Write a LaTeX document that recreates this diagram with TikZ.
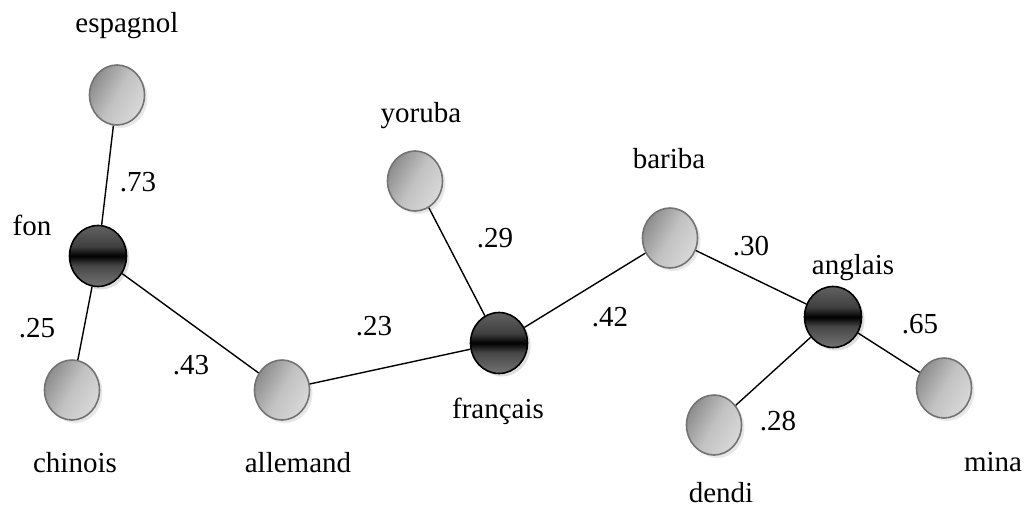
\documentclass[tikz,border=0pt]{standalone}
\usepackage{fontspec}
\setmainfont{Liberation Serif}
\usetikzlibrary{shadows,shapes.geometric}
\pgfdeclareverticalshading{blackball}{100bp}{color(0bp)=(black!55); color(25bp)=(black!55); color(42bp)=(black!72); color(50bp)=(black); color(58bp)=(black!75); color(75bp)=(black!62); color(100bp)=(black!62)}
\tikzset{
  graynode/.style={draw=black!55, line width=1.6pt, minimum width=55pt, minimum height=60pt, inner sep=0pt,
    shape=ellipse, left color=black!45, right color=black!15, middle color=black!24, shading angle=60,
    drop shadow={opacity=0.18, shadow xshift=3pt, shadow yshift=-3pt}},
  blacknode/.style={draw=black, line width=1.6pt, minimum width=57pt, minimum height=61pt, inner sep=0pt,
    shape=ellipse, shading=blackball,
    drop shadow={opacity=0.25, shadow xshift=3pt, shadow yshift=-3pt}},
  lbl/.style={font=\fontsize{29}{30}\selectfont, anchor=base, inner sep=0pt},
  edge/.style={line width=1.4pt, black}
}
\begin{document}
\begin{tikzpicture}[x=1pt,y=-1pt]
\useasboundingbox (0,0) rectangle (1026,524);
% nodes
\node[graynode]  (espagnol) at (117,95) {};
\node[blacknode] (fon)      at (98,256) {};
\node[graynode]  (chinois)  at (72,390) {};
\node[graynode]  (allemand) at (282,390) {};
\node[graynode]  (yoruba)   at (415,181) {};
\node[blacknode] (francais) at (499,343) {};
\node[graynode]  (bariba)   at (670,238) {};
\node[blacknode] (anglais)  at (833,317) {};
\node[graynode]  (dendi)    at (714,425) {};
\node[graynode]  (mina)     at (944,388) {};
% edges
\draw[edge] (espagnol) -- (fon);
\draw[edge] (fon) -- (chinois);
\draw[edge] (fon) -- (allemand);
\draw[edge] (allemand) -- (francais);
\draw[edge] (yoruba) -- (francais);
\draw[edge] (francais) -- (bariba);
\draw[edge] (bariba) -- (anglais);
\draw[edge] (anglais) -- (dendi);
\draw[edge] (anglais) -- (mina);
% labels
\node[lbl] (tespagnol) at (127,33) {espagnol};
\node[lbl] (tfon)      at (32,235) {fon};
\node[lbl] (tchinois)  at (75,472) {chinois};
\node[lbl] (tallemand) at (298,472) {allemand};
\node[lbl] (tyoruba)   at (421,123) {yoruba};
\node[lbl] (tfrancais) at (498,418) {français};
\node[lbl] (tbariba)   at (669,168) {bariba};
\node[lbl] (tanglais)  at (853,274) {anglais};
\node[lbl] (tdendi)    at (721,502) {dendi};
\node[lbl] (tmina)     at (993,471) {mina};
% weights
\node[lbl] (w1) at (138,192) {.73};
\node[lbl] (w2) at (37,337) {.25};
\node[lbl] (w3) at (191,374) {.43};
\node[lbl] (w4) at (374,335) {.23};
\node[lbl] (w5) at (495,247) {.29};
\node[lbl] (w6) at (610,326) {.42};
\node[lbl] (w7) at (751,255) {.30};
\node[lbl] (w8) at (920,333) {.65};
\node[lbl] (w9) at (778,430) {.28};
\end{tikzpicture}
\end{document}
